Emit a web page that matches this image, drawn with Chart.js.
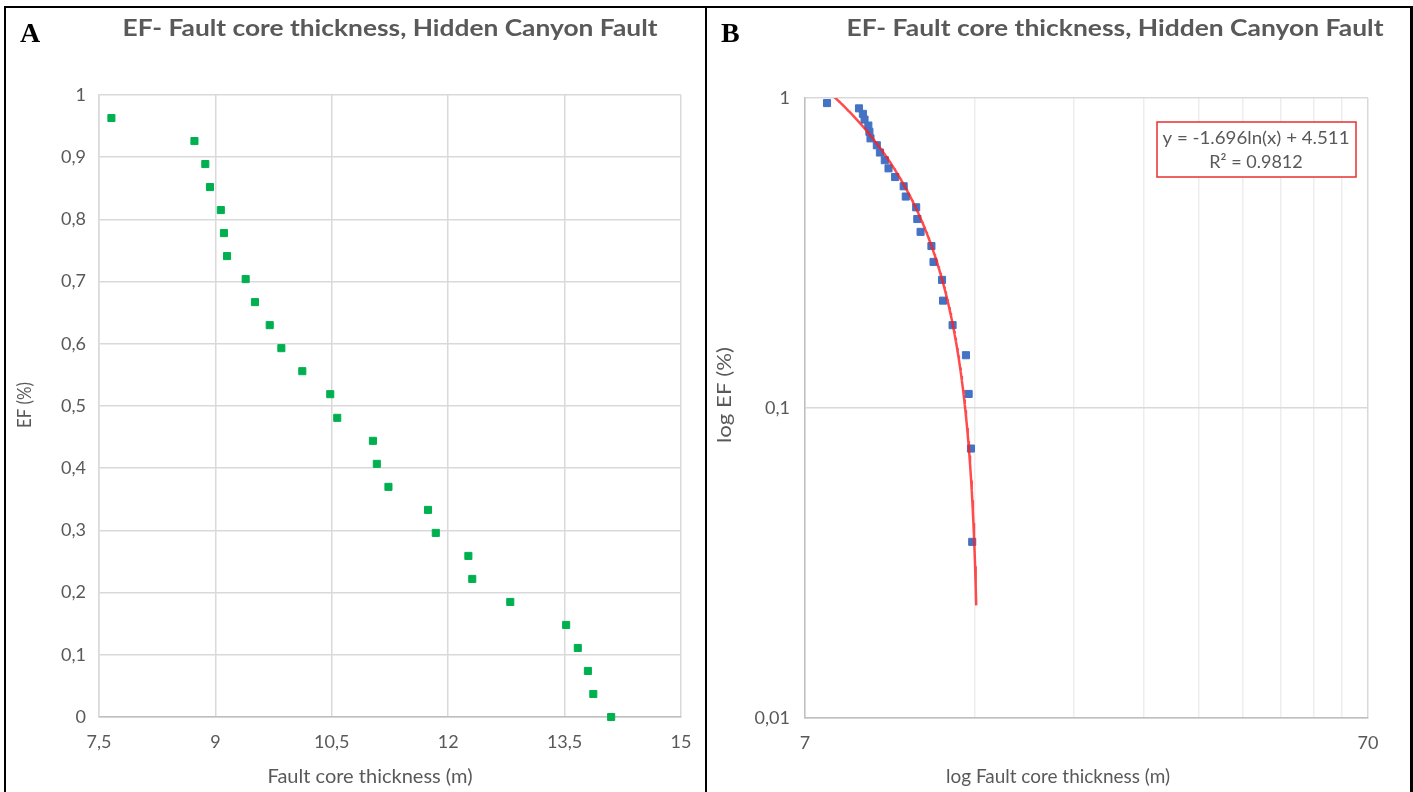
<!DOCTYPE html>
<html>
<head>
<meta charset="utf-8">
<script src="https://cdn.jsdelivr.net/npm/chart.js@4.4.0/dist/chart.umd.min.js"></script>
<style>
  body { margin: 0; background: #fff; }
  #wrap { position: relative; width: 1413px; height: 792px; overflow: hidden; background: #fff; }
  canvas { position: absolute; top: 0; }
  .edge { position: absolute; background: #000; }
</style>
</head>
<body>
<div id="wrap">
  <canvas id="chartA" width="706" height="792" style="left:0"></canvas>
  <canvas id="chartB" width="706" height="792" style="left:707px"></canvas>
  <div class="edge" style="left:4px;top:6px;width:1409px;height:2px"></div>
  <div class="edge" style="left:4px;top:6px;width:2px;height:786px"></div>
  <div class="edge" style="left:705px;top:6px;width:2px;height:786px"></div>
  <div class="edge" style="left:1410px;top:6px;width:3px;height:786px"></div>
</div>
<script>
// fault core thickness (m) and exceedance frequency
var thickness = [7.66, 8.73, 8.87, 8.93, 9.07, 9.11, 9.15, 9.39, 9.51, 9.70, 9.85, 10.12, 10.48, 10.57,
                 11.03, 11.08, 11.23, 11.74, 11.84, 12.26, 12.31, 12.80, 13.52, 13.67, 13.80, 13.87, 14.10];
var ef = [0.963, 0.926, 0.889, 0.852, 0.815, 0.778, 0.741, 0.704, 0.667, 0.630, 0.593, 0.556, 0.519, 0.481,
          0.444, 0.407, 0.370, 0.333, 0.296, 0.259, 0.222, 0.185, 0.148, 0.111, 0.074, 0.037, 0];

var xTicksA = [7.5, 9, 10.5, 12, 13.5, 15];
var yTicksA = [0, 0.1, 0.2, 0.3, 0.4, 0.5, 0.6, 0.7, 0.8, 0.9, 1];
var xTicksB = [7, 14, 21, 28, 35, 42, 49, 56, 63, 70];
var xLabelsB = [7, 70];
var yTicksB = [0.01, 0.1, 1];

// excel log trendline
var trendSlope = -1.696;
var trendIntercept = 4.511;
var trendR2 = '0.9812';

var title = 'EF- Fault core thickness, Hidden Canyon Fault';
var grey = '#595959';

function fmt(v) {
    return String(+v.toFixed(3)).replace('.', ',');
}

function fitText(ctx, text, x, y, font, width, rot) {
    ctx.save();
    ctx.font = font;
    ctx.fillStyle = grey;
    ctx.textAlign = 'center';
    ctx.textBaseline = 'middle';
    ctx.translate(x, y);
    if (rot) ctx.rotate(rot);
    if (width) ctx.scale(width / ctx.measureText(text).width, 1);
    ctx.fillText(text, 0, 0);
    ctx.restore();
}

function setTicks(list) {
    return function(scale) {
        scale.ticks = list.map(function(v) { return { value: v }; });
    };
}

var pointsA = thickness.map(function(x, i) { return { x: x, y: ef[i] }; });
var pointsB = pointsA.filter(function(p) { return p.y > 0; });

var xMin = Math.min.apply(null, thickness);
var xMax = Math.max.apply(null, thickness);
var trend = [];
for (var i = 0; i <= 200; i++) {
    var tx = xMin + (xMax - xMin) * i / 200;
    trend.push({ x: tx, y: trendSlope * Math.log(tx) + trendIntercept });
}

var tickFont = { family: 'Lato', size: 18 };

var decorA = {
    id: 'decorA',
    afterDraw: function(chart) {
        var ctx = chart.ctx;
        ctx.save();
        ctx.font = 'bold 28px "Liberation Serif"';
        ctx.fillStyle = '#000';
        ctx.textBaseline = 'alphabetic';
        ctx.fillText('A', 20, 42);
        ctx.restore();
        fitText(ctx, title, 390, 29, 'bold 22px Lato', 535);
        fitText(ctx, 'Fault core thickness (m)', 370, 777, '19px Lato', 205);
        fitText(ctx, 'EF (%)', 25, 405, '19px Lato', 46, -Math.PI / 2);
    }
};

var decorB = {
    id: 'decorB',
    afterDraw: function(chart) {
        var ctx = chart.ctx;
        ctx.save();
        ctx.font = 'bold 28px "Liberation Serif"';
        ctx.fillStyle = '#000';
        ctx.textBaseline = 'alphabetic';
        ctx.fillText('B', 14, 42);
        ctx.restore();
        fitText(ctx, title, 408, 29, 'bold 22px Lato', 537);
        fitText(ctx, 'log Fault core thickness (m)', 351, 777, '19px Lato', 224);
        fitText(ctx, 'log EF (%)', 18, 395, '19px Lato', 96, -Math.PI / 2);

        // equation box
        ctx.save();
        ctx.fillStyle = '#fff';
        ctx.fillRect(450, 122, 199, 55);
        ctx.strokeStyle = '#E8302F';
        ctx.lineWidth = 1.5;
        ctx.strokeRect(450, 122, 199, 55);
        ctx.restore();
        fitText(ctx, 'y = ' + trendSlope + 'ln(x) + ' + trendIntercept, 549, 138, '18px Lato', 187);
        fitText(ctx, 'R\u00b2 = ' + trendR2, 549, 162, '18px Lato');
    }
};

new Chart(document.getElementById('chartA').getContext('2d'), {
    type: 'scatter',
    data: {
        datasets: [{
            data: pointsA,
            pointStyle: 'rect',
            pointRadius: 5,
            backgroundColor: '#00B050',
            borderColor: '#00B050',
            borderWidth: 1,
            clip: false
        }]
    },
    options: {
        responsive: false,
        animation: false,
        layout: { padding: { left: 0, right: 25, top: 95, bottom: 0 } },
        plugins: { legend: { display: false }, tooltip: { enabled: false } },
        scales: {
            x: {
                type: 'linear', min: 7.5, max: 15,
                afterBuildTicks: setTicks(xTicksA),
                afterFit: function(s) { s.height = 75; },
                grid: { color: '#D9D9D9', lineWidth: 1.5, drawTicks: false },
                border: { color: '#BFBFBF', width: 1.5 },
                ticks: { padding: 14, color: grey, font: tickFont, maxRotation: 0, autoSkip: false, callback: fmt }
            },
            y: {
                type: 'linear', min: 0, max: 1,
                afterBuildTicks: setTicks(yTicksA),
                afterFit: function(s) { s.width = 99; },
                grid: { color: '#D9D9D9', lineWidth: 1.5, drawTicks: false },
                border: { color: '#D9D9D9', width: 1.5 },
                ticks: { padding: 13, color: grey, font: tickFont, autoSkip: false, callback: fmt }
            }
        }
    },
    plugins: [decorA]
});

new Chart(document.getElementById('chartB').getContext('2d'), {
    type: 'scatter',
    data: {
        datasets: [{
            data: trend,
            showLine: true,
            pointRadius: 0,
            borderColor: 'rgba(255, 30, 30, 0.8)',
            borderWidth: 2.5,
            tension: 0,
            clip: 0
        }, {
            data: pointsB,
            pointStyle: 'rect',
            pointRadius: 5,
            backgroundColor: '#4472C4',
            borderColor: '#4472C4',
            borderWidth: 1,
            clip: false
        }]
    },
    options: {
        responsive: false,
        animation: false,
        layout: { padding: { left: 0, right: 45, top: 98, bottom: 0 } },
        plugins: { legend: { display: false }, tooltip: { enabled: false } },
        scales: {
            x: {
                type: 'logarithmic', min: 7, max: 70,
                afterBuildTicks: setTicks(xTicksB),
                afterFit: function(s) { s.height = 74; },
                grid: { color: function(c) { return c.tick && c.tick.value === 70 ? '#D9D9D9' : '#EDEDED'; }, lineWidth: 1.5, drawTicks: false },
                border: { color: '#BFBFBF', width: 1.5 },
                ticks: {
                    padding: 14, color: grey, font: tickFont, maxRotation: 0, autoSkip: false,
                    callback: function(v) { return xLabelsB.indexOf(v) >= 0 ? String(v) : ''; }
                }
            },
            y: {
                type: 'logarithmic', min: 0.01, max: 1,
                afterBuildTicks: setTicks(yTicksB),
                afterFit: function(s) { s.width = 98; },
                grid: { color: '#D9D9D9', lineWidth: 1.5, drawTicks: false },
                border: { color: '#BFBFBF', width: 1.5 },
                ticks: { padding: 15, color: grey, font: tickFont, autoSkip: false, callback: fmt }
            }
        }
    },
    plugins: [decorB]
});
</script>
</body>
</html>
